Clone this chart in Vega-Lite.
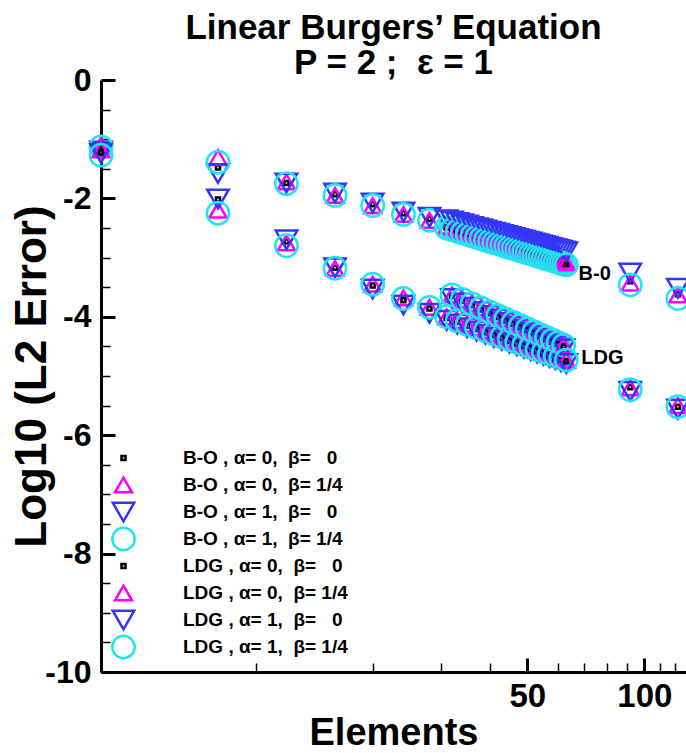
{
  "$schema": "https://vega.github.io/schema/vega-lite/v6.json",
  "width": 585,
  "height": 592,
  "autosize": {"type": "none"},
  "padding": {"left": 101, "top": 80, "right": 0, "bottom": 81},
  "background": "white",
  "title": {
    "text": ["Linear Burgers’ Equation", "P = 2 ;\u00a0 ε = 1"],
    "anchor": "middle",
    "font": "Liberation Sans, Arial, sans-serif",
    "fontSize": 35,
    "fontWeight": "bold",
    "color": "black",
    "lineHeight": 35,
    "offset": -17
  },
  "config": {
    "view": {"stroke": null},
    "axis": {"grid": false}
  },
  "datasets": {
    "pts": [
      {"N": 4, "b1": -1.18, "b2": -1.10, "b3": -1.20, "b4": -1.13, "l1": -1.22, "l2": -1.18, "l3": -1.24, "l4": -1.27},
      {"N": 8, "b1": -1.48, "b2": -1.31, "b3": -1.58, "b4": -1.39, "l1": -2.02, "l2": -2.20, "l3": -2.01, "l4": -2.25},
      {"N": 12, "b1": -1.74, "b2": -1.72, "b3": -1.74, "b4": -1.75, "l1": -2.73, "l2": -2.75, "l3": -2.70, "l4": -2.80},
      {"N": 16, "b1": -1.93, "b2": -1.95, "b3": -1.91, "b4": -1.95, "l1": -3.17, "l2": -3.18, "l3": -3.17, "l4": -3.18},
      {"N": 20, "b1": -2.10, "b2": -2.12, "b3": -2.08, "b4": -2.12, "l1": -3.47, "l2": -3.45, "l3": -3.53, "l4": -3.45},
      {"N": 24, "b1": -2.25, "b2": -2.27, "b3": -2.23, "b4": -2.27, "l1": -3.72, "l2": -3.68, "l3": -3.80, "l4": -3.69},
      {"N": 28, "b1": -2.35, "b2": -2.37, "b3": -2.32, "b4": -2.37, "l1": -3.86, "l2": -3.84, "l3": -3.94, "l4": -3.84},
      {"N": 31, "b1": -2.490, "b2": -2.470, "b3": -2.360, "b4": -2.500, "l1": -4.020, "l2": -4.000, "l3": -4.060, "l4": -4.000},
      {"N": 32, "b1": -2.518, "b2": -2.498, "b3": -2.384, "b4": -2.528, "l1": -3.650, "l2": -3.630, "l3": -3.690, "l4": -3.630},
      {"N": 33, "b1": -2.545, "b2": -2.525, "b3": -2.408, "b4": -2.555, "l1": -4.084, "l2": -4.064, "l3": -4.124, "l4": -4.064},
      {"N": 34, "b1": -2.571, "b2": -2.551, "b3": -2.430, "b4": -2.581, "l1": -3.728, "l2": -3.708, "l3": -3.768, "l4": -3.708},
      {"N": 35, "b1": -2.596, "b2": -2.576, "b3": -2.452, "b4": -2.606, "l1": -4.145, "l2": -4.125, "l3": -4.185, "l4": -4.125},
      {"N": 36, "b1": -2.621, "b2": -2.601, "b3": -2.474, "b4": -2.631, "l1": -3.801, "l2": -3.781, "l3": -3.841, "l4": -3.781},
      {"N": 37, "b1": -2.645, "b2": -2.625, "b3": -2.495, "b4": -2.655, "l1": -4.202, "l2": -4.182, "l3": -4.242, "l4": -4.182},
      {"N": 38, "b1": -2.668, "b2": -2.648, "b3": -2.515, "b4": -2.678, "l1": -3.871, "l2": -3.851, "l3": -3.911, "l4": -3.851},
      {"N": 39, "b1": -2.691, "b2": -2.671, "b3": -2.535, "b4": -2.701, "l1": -4.256, "l2": -4.236, "l3": -4.296, "l4": -4.236},
      {"N": 40, "b1": -2.713, "b2": -2.693, "b3": -2.554, "b4": -2.723, "l1": -3.937, "l2": -3.917, "l3": -3.977, "l4": -3.917},
      {"N": 41, "b1": -2.734, "b2": -2.714, "b3": -2.573, "b4": -2.744, "l1": -4.308, "l2": -4.288, "l3": -4.348, "l4": -4.288},
      {"N": 42, "b1": -2.755, "b2": -2.735, "b3": -2.591, "b4": -2.765, "l1": -3.999, "l2": -3.979, "l3": -4.039, "l4": -3.979},
      {"N": 43, "b1": -2.776, "b2": -2.756, "b3": -2.609, "b4": -2.786, "l1": -4.357, "l2": -4.337, "l3": -4.397, "l4": -4.337},
      {"N": 44, "b1": -2.796, "b2": -2.776, "b3": -2.627, "b4": -2.806, "l1": -4.059, "l2": -4.039, "l3": -4.099, "l4": -4.039},
      {"N": 45, "b1": -2.816, "b2": -2.796, "b3": -2.644, "b4": -2.826, "l1": -4.404, "l2": -4.384, "l3": -4.444, "l4": -4.384},
      {"N": 46, "b1": -2.835, "b2": -2.815, "b3": -2.660, "b4": -2.845, "l1": -4.116, "l2": -4.096, "l3": -4.156, "l4": -4.096},
      {"N": 47, "b1": -2.854, "b2": -2.834, "b3": -2.677, "b4": -2.864, "l1": -4.448, "l2": -4.428, "l3": -4.488, "l4": -4.428},
      {"N": 48, "b1": -2.872, "b2": -2.852, "b3": -2.693, "b4": -2.882, "l1": -4.171, "l2": -4.151, "l3": -4.211, "l4": -4.151},
      {"N": 49, "b1": -2.890, "b2": -2.870, "b3": -2.709, "b4": -2.900, "l1": -4.491, "l2": -4.471, "l3": -4.531, "l4": -4.471},
      {"N": 50, "b1": -2.908, "b2": -2.888, "b3": -2.724, "b4": -2.918, "l1": -4.224, "l2": -4.204, "l3": -4.264, "l4": -4.204},
      {"N": 51, "b1": -2.925, "b2": -2.905, "b3": -2.739, "b4": -2.935, "l1": -4.532, "l2": -4.512, "l3": -4.572, "l4": -4.512},
      {"N": 52, "b1": -2.942, "b2": -2.922, "b3": -2.754, "b4": -2.952, "l1": -4.274, "l2": -4.254, "l3": -4.314, "l4": -4.254},
      {"N": 53, "b1": -2.959, "b2": -2.939, "b3": -2.768, "b4": -2.969, "l1": -4.572, "l2": -4.552, "l3": -4.612, "l4": -4.552},
      {"N": 54, "b1": -2.975, "b2": -2.955, "b3": -2.783, "b4": -2.985, "l1": -4.322, "l2": -4.302, "l3": -4.362, "l4": -4.302},
      {"N": 55, "b1": -2.991, "b2": -2.971, "b3": -2.797, "b4": -3.001, "l1": -4.610, "l2": -4.590, "l3": -4.650, "l4": -4.590},
      {"N": 56, "b1": -3.007, "b2": -2.987, "b3": -2.810, "b4": -3.017, "l1": -4.369, "l2": -4.349, "l3": -4.409, "l4": -4.349},
      {"N": 57, "b1": -3.022, "b2": -3.002, "b3": -2.824, "b4": -3.032, "l1": -4.647, "l2": -4.627, "l3": -4.687, "l4": -4.627},
      {"N": 58, "b1": -3.038, "b2": -3.018, "b3": -2.837, "b4": -3.048, "l1": -4.414, "l2": -4.394, "l3": -4.454, "l4": -4.394},
      {"N": 59, "b1": -3.053, "b2": -3.033, "b3": -2.850, "b4": -3.063, "l1": -4.682, "l2": -4.662, "l3": -4.722, "l4": -4.662},
      {"N": 60, "b1": -3.067, "b2": -3.047, "b3": -2.863, "b4": -3.077, "l1": -4.458, "l2": -4.438, "l3": -4.498, "l4": -4.438},
      {"N": 61, "b1": -3.082, "b2": -3.062, "b3": -2.875, "b4": -3.092, "l1": -4.717, "l2": -4.697, "l3": -4.757, "l4": -4.697},
      {"N": 62, "b1": -3.096, "b2": -3.076, "b3": -2.888, "b4": -3.106, "l1": -4.500, "l2": -4.480, "l3": -4.540, "l4": -4.480},
      {"N": 63, "b1": -3.110, "b2": -3.090, "b3": -2.900, "b4": -3.120, "l1": -4.750, "l2": -4.730, "l3": -4.790, "l4": -4.730},
      {"N": 92, "b1": -3.40, "b2": -3.43, "b3": -3.26, "b4": -3.46, "l1": -5.19, "l2": -5.20, "l3": -5.26, "l4": -5.23},
      {"N": 122, "b1": -3.62, "b2": -3.63, "b3": -3.52, "b4": -3.69, "l1": -5.52, "l2": -5.50, "l3": -5.56, "l4": -5.52}
    ],
    "notes": [
      {"N": 74.5, "e": -3.27, "t": "B-0"},
      {"N": 78, "e": -4.70, "t": "LDG"}
    ]
  },
  "encoding": {
    "x": {
      "field": "N",
      "type": "quantitative",
      "title": "Elements",
      "scale": {"type": "log", "domain": [4, 128]},
      "axis": {
        "values": [10, 20, 30, 40, 50, 60, 70, 80, 90, 100, 110, 120],
        "labelExpr": "datum.value == 50 || datum.value == 100 ? '' + datum.value : ''",
        "tickSize": {"condition": {"test": "datum.value == 50 || datum.value == 100", "value": -14}, "value": -9},
        "tickWidth": {"condition": {"test": "datum.value == 50 || datum.value == 100", "value": 3}, "value": 1.5},
        "tickColor": "black",
        "domainColor": "black",
        "domainWidth": 3,
        "labelFont": "Liberation Sans, Arial, sans-serif",
        "labelFontSize": 33,
        "labelFontWeight": "bold",
        "labelColor": "black",
        "labelPadding": 22,
        "labelFlush": false,
        "labelOverlap": false,
        "titleFont": "Liberation Sans, Arial, sans-serif",
        "titleFontSize": 38,
        "titleFontWeight": "bold",
        "titleColor": "black",
        "titlePadding": -4
      }
    },
    "y": {
      "field": "e",
      "type": "quantitative",
      "title": "Log10 (L2 Error)",
      "scale": {"domain": [-10, 0], "nice": false, "zero": false},
      "axis": {
        "values": [-10, -9.5, -9, -8.5, -8, -7.5, -7, -6.5, -6, -5.5, -5, -4.5, -4, -3.5, -3, -2.5, -2, -1.5, -1, -0.5, 0],
        "labelExpr": "datum.value % 2 == 0 ? '' + datum.value : ''",
        "tickSize": {"condition": {"test": "datum.value % 2 == 0", "value": -14}, "value": -9},
        "tickWidth": {"condition": {"test": "datum.value % 2 == 0", "value": 3}, "value": 1.5},
        "tickColor": "black",
        "domainColor": "black",
        "domainWidth": 3,
        "labelFont": "Liberation Sans, Arial, sans-serif",
        "labelFontSize": 32,
        "labelFontWeight": "bold",
        "labelColor": "black",
        "labelPadding": 24,
        "labelFlush": false,
        "labelOverlap": false,
        "titleFont": "Liberation Sans, Arial, sans-serif",
        "titleFontSize": 44,
        "titleFontWeight": "bold",
        "titleColor": "black",
        "titlePadding": -10
      }
    }
  },
  "layer": [
    {
      "data": {"name": "pts"},
      "transform": [
        {"fold": ["b1", "b2", "b3", "b4", "l1", "l2", "l3", "l4"], "as": ["series", "e"]}
      ],
      "mark": {"type": "point", "filled": false, "strokeWidth": 2.5, "opacity": 1},
      "encoding": {
        "color": {
          "field": "series",
          "type": "nominal",
          "scale": {
            "domain": ["b1", "b2", "b3", "b4", "l1", "l2", "l3", "l4"],
            "range": ["black", "#ff00ff", "#3535f5", "#1ee6ee", "black", "#ff00ff", "#3535f5", "#1ee6ee"]
          },
          "legend": {
            "title": null,
            "orient": "none",
            "legendX": 10,
            "legendY": 364.5,
            "padding": 0,
            "clipHeight": 27,
            "rowPadding": 0,
            "labelOffset": 47,
            "labelLimit": 0,
            "labelFont": "Liberation Sans, Arial, sans-serif",
            "labelFontSize": 19,
            "labelFontWeight": "bold",
            "labelColor": "black",
            "symbolStrokeWidth": 2.5,
            "labelExpr": "['B-O , α= 0,\u00a0 β=\u00a0\u00a0 0', 'B-O , α= 0,\u00a0 β= 1/4', 'B-O , α= 1,\u00a0 β=\u00a0\u00a0 0', 'B-O , α= 1,\u00a0 β= 1/4', 'LDG , α= 0,\u00a0 β=\u00a0\u00a0 0', 'LDG , α= 0,\u00a0 β= 1/4', 'LDG , α= 1,\u00a0 β=\u00a0\u00a0 0', 'LDG , α= 1,\u00a0 β= 1/4'][indexof(['b1','b2','b3','b4','l1','l2','l3','l4'], datum.label)]"
          }
        },
        "shape": {
          "field": "series",
          "type": "nominal",
          "scale": {
            "domain": ["b1", "b2", "b3", "b4", "l1", "l2", "l3", "l4"],
            "range": ["square", "triangle-up", "triangle-down", "circle", "square", "triangle-up", "triangle-down", "circle"]
          }
        },
        "size": {
          "field": "series",
          "type": "nominal",
          "scale": {
            "type": "ordinal",
            "domain": ["b1", "b2", "b3", "b4", "l1", "l2", "l3", "l4"],
            "range": [16, 290, 460, 500, 16, 290, 460, 500]
          }
        }
      }
    },
    {
      "data": {"name": "notes"},
      "mark": {
        "type": "text",
        "font": "Liberation Sans, Arial, sans-serif",
        "fontSize": 20,
        "fontWeight": "bold",
        "color": "black",
        "align": "center",
        "baseline": "middle"
      },
      "encoding": {
        "text": {"field": "t"}
      }
    }
  ]
}
